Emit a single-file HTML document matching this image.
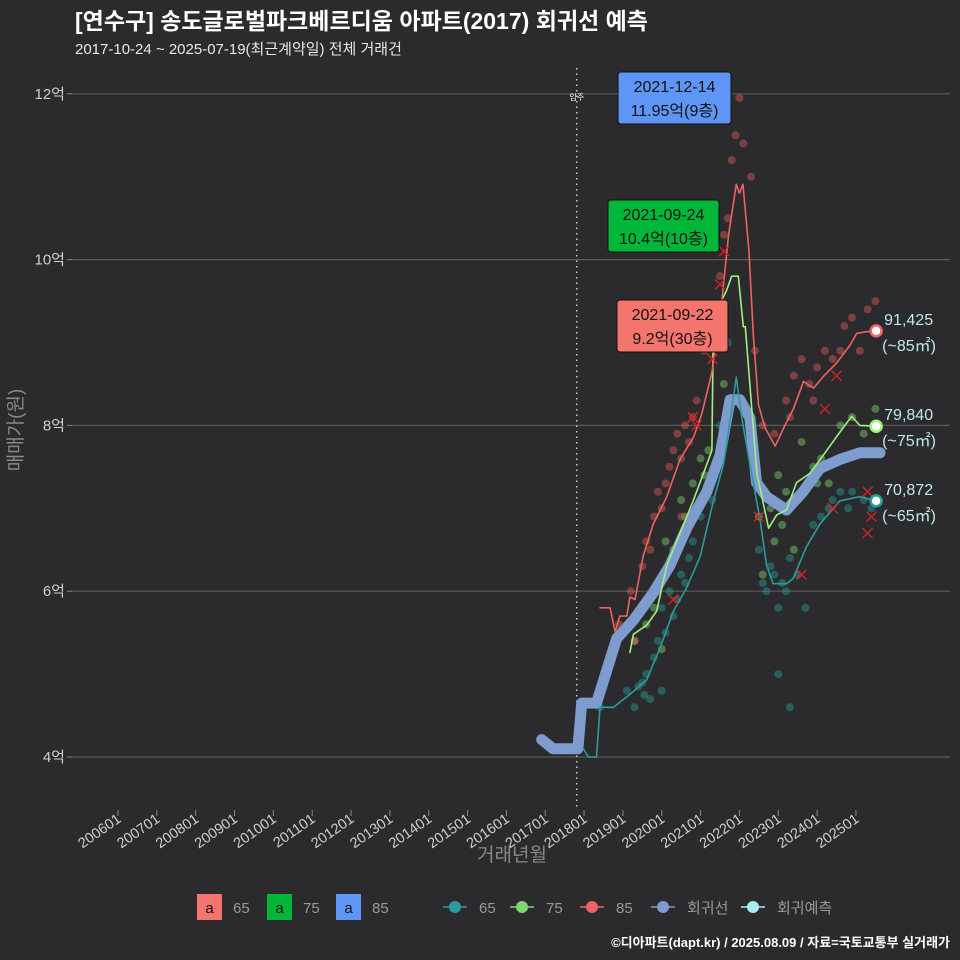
<!DOCTYPE html>
<html><head><meta charset="utf-8">
<style>
body{margin:0;background:#2b2b2d;}
svg{display:block;font-family:"Liberation Sans","Noto Sans CJK KR",sans-serif;}
</style></head>
<body>
<svg id="chart" width="960" height="960" viewBox="0 0 960 960">
<rect width="960" height="960" fill="#2b2b2d"/>
<text x="75" y="29" font-size="23" font-weight="bold" fill="#ffffff">[연수구] 송도글로벌파크베르디움 아파트(2017) 회귀선 예측</text>
<text x="75" y="54" font-size="15" fill="#e8e8e8">2017-10-24 ~ 2025-07-19(최근계약일) 전체 거래건</text>
<g id="grid"></g>
<g id="yaxis"></g>
<g id="xaxis"></g>
<text transform="translate(22,430) rotate(-90)" text-anchor="middle" font-size="19" fill="#888">매매가(원)</text>
<text x="512" y="861" text-anchor="middle" font-size="19" fill="#888">거래년월</text>
<g id="marks"></g>
<g id="legend"></g>
<text x="950" y="947" text-anchor="end" font-size="13" font-weight="bold" fill="#ffffff">©디아파트(dapt.kr) / 2025.08.09 / 자료=국토교통부 실거래가</text>
</svg>
<script>
const yTicks=[4,6,8,10,12];
const yTickLabels=["4억","6억","8억","10억","12억"];
const xTicks=[2006,2007,2008,2009,2010,2011,2012,2013,2014,2015,2016,2017,2018,2019,2020,2021,2022,2023,2024,2025];
const xTickLabels=["200601","200701","200801","200901","201001","201101","201201","201301","201401","201501","201601","201701","201801","201901","202001","202101","202201","202301","202401","202501"];
const moveInYear=2017.81;
const regYears=[2016.91,2017.2,2017.84,2017.94,2018.32,2018.58,2018.84,2019.27,2019.78,2020.21,2020.64,2021.16,2021.5,2021.76,2022.01,2022.27,2022.44,2022.7,2023.21,2023.64,2024.07,2024.59,2025.1,2025.62];
const regValues=[4.21,4.1,4.1,4.65,4.65,5.04,5.43,5.65,5.98,6.31,6.76,7.2,7.64,8.31,8.31,8.09,7.31,7.14,6.98,7.2,7.48,7.59,7.67,7.67];
const s85Years=[2018.41,2018.67,2018.8,2018.92,2019.1,2019.18,2019.31,2019.52,2019.78,2020.13,2020.47,2020.82,2021.03,2021.29,2021.55,2021.72,2021.92,2022.0,2022.09,2022.24,2022.36,2022.49,2022.66,2022.92,2023.14,2023.39,2023.65,2023.91,2024.16,2024.5,2024.85,2025.02,2025.27,2025.52];
const s85Values=[5.8,5.8,5.51,5.7,5.7,5.93,5.9,6.42,6.81,7.14,7.59,7.86,8.14,8.64,9.52,10.3,10.91,10.8,10.91,10.13,9.08,8.25,7.97,7.75,7.97,8.2,8.53,8.45,8.59,8.75,8.97,9.11,9.13,9.14];
const s75Years=[2019.18,2019.27,2019.61,2019.87,2020.13,2020.47,2020.81,2021.16,2021.29,2021.33,2021.67,2021.8,2021.97,2022.1,2022.15,2022.45,2022.75,2022.96,2023.21,2023.47,2023.81,2024.16,2024.59,2024.89,2025.1,2025.52];
const s75Values=[5.26,5.48,5.59,5.76,6.31,6.7,7.09,7.53,7.7,9.3,9.63,9.8,9.8,9.19,9.19,7.42,6.76,6.92,6.98,7.31,7.42,7.64,7.92,8.11,8.0,7.99];
const s65Years=[2017.98,2018.11,2018.32,2018.41,2018.76,2019.27,2019.61,2019.96,2020.3,2020.64,2020.99,2021.33,2021.59,2021.92,2022.06,2022.27,2022.53,2022.7,2022.87,2023.21,2023.38,2023.72,2024.07,2024.59,2025.1,2025.52];
const s65Values=[4.1,4.0,4.0,4.6,4.6,4.79,4.93,5.32,5.76,6.04,6.42,7.09,7.53,8.58,8.09,7.53,6.87,6.31,6.09,6.09,6.15,6.53,6.81,7.09,7.14,7.09];
const d85=[[2018.9,5.6],[2019.2,6.0],[2019.5,6.3],[2019.6,6.6],[2019.8,6.9],[2019.9,7.2],[2020.0,7.0],[2020.2,7.5],[2020.3,7.7],[2020.4,7.9],[2020.6,8.0],[2020.7,7.8],[2020.9,8.3],[2021.1,8.9],[2021.3,9.3],[2021.5,9.8],[2021.6,10.3],[2021.7,10.5],[2021.8,11.2],[2021.9,11.5],[2022.0,11.95],[2022.1,11.4],[2022.3,11.0],[2022.4,8.9],[2022.6,8.0],[2022.9,7.9],[2023.2,8.3],[2023.4,8.6],[2023.6,8.8],[2023.8,8.5],[2024.0,8.7],[2024.2,8.9],[2024.4,8.8],[2024.7,9.2],[2024.9,9.3],[2025.1,8.9],[2025.3,9.4],[2025.5,9.5],[2019.3,5.4],[2020.5,6.9],[2019.7,6.5],[2020.1,7.3],[2020.5,7.6],[2020.8,8.1],[2021.4,9.0],[2023.3,8.1],[2023.9,8.3],[2024.6,8.9]];
const d75=[[2019.3,5.4],[2019.6,5.6],[2019.9,6.0],[2020.1,6.6],[2020.3,6.5],[2020.5,7.1],[2020.8,7.3],[2021.0,7.6],[2021.2,7.7],[2021.6,8.5],[2022.5,6.9],[2022.6,6.2],[2022.8,7.0],[2023.0,7.4],[2023.2,7.2],[2023.4,6.5],[2023.6,7.8],[2023.9,7.5],[2024.1,7.6],[2024.3,7.3],[2024.6,8.0],[2024.9,8.1],[2025.2,7.9],[2025.5,8.2],[2020.0,5.3],[2022.9,6.6],[2019.8,5.8],[2020.2,6.3],[2020.6,6.9],[2021.1,7.4],[2023.1,6.8],[2024.0,7.3]];
const d65=[[2018.4,4.6],[2019.1,4.8],[2019.3,4.6],[2019.5,4.9],[2019.6,5.0],[2019.8,5.2],[2019.9,5.4],[2020.0,5.8],[2020.2,6.0],[2020.3,5.7],[2020.5,6.2],[2020.6,6.1],[2020.8,6.6],[2021.0,6.9],[2021.2,7.3],[2021.5,8.0],[2021.7,9.0],[2022.5,6.5],[2022.7,6.0],[2022.8,6.3],[2023.0,5.8],[2023.1,6.1],[2023.3,6.4],[2023.5,6.2],[2023.7,5.8],[2023.9,6.8],[2024.1,6.9],[2024.3,7.0],[2024.6,7.2],[2024.9,7.2],[2025.2,7.1],[2025.4,7.0],[2023.0,5.0],[2023.3,4.6],[2020.0,4.8],[2019.7,4.7],[2019.4,4.85],[2019.55,4.75],[2020.1,5.5],[2020.4,5.9],[2020.7,6.4],[2021.3,7.1],[2022.6,6.1],[2022.9,6.2],[2023.2,6.0],[2024.4,7.1],[2024.8,7.0]];
const cancelPts=[[2020.3,5.9],[2020.8,8.1],[2021.3,8.8],[2021.5,9.7],[2021.6,10.1],[2020.9,8.0],[2022.5,6.9],[2023.6,6.2],[2024.2,8.2],[2024.5,8.6],[2024.4,7.0],[2025.3,7.2],[2025.4,6.9],[2025.3,6.7]];
const endLabels=["91,425","79,840","70,872"];
const endAreas=["(~85㎡)","(~75㎡)","(~65㎡)"];
const annoDates=["2021-12-14","2021-09-24","2021-09-22"];
const annoTexts=["11.95억(9층)","10.4억(10층)","9.2억(30층)"];

const NS="http://www.w3.org/2000/svg";
const X=y=>118+(y-2006)*38.84;
const Y=v=>757-(v-4)*82.9;
function mk(parent,tag,attrs){const e=document.createElementNS(NS,tag);for(const k in attrs)e.setAttribute(k,attrs[k]);parent.appendChild(e);return e;}
const grid=document.getElementById('grid'),yax=document.getElementById('yaxis'),xax=document.getElementById('xaxis'),marks=document.getElementById('marks'),leg=document.getElementById('legend');
yTicks.forEach((t,i)=>{
 const l=mk(grid,'line',{x1:72,x2:950,y1:Y(t),y2:Y(t),stroke:'#5a5a5a','stroke-width':1.2});
 
 
 const tk=mk(yax,'line',{x1:67,x2:72,y1:Y(t),y2:Y(t),stroke:'#888'});
 
 
 const tx=mk(yax,'text',{x:65,y:Y(t)+5,'text-anchor':'end','font-size':15,fill:'#cfcfcf'});
 tx.textContent=yTickLabels[i];
 
 
});
xTicks.forEach((t,i)=>{
 const x=X(t);
 const tk=mk(xax,'line',{x1:x,x2:x,y1:810,y2:816,stroke:'#888'});
 
 
 const tx=mk(xax,'text',{transform:`translate(${x+4},${821}) rotate(-35)`,'text-anchor':'end','font-size':14.5,fill:'#cfcfcf'});
 tx.textContent=xTickLabels[i];
 
 
});
const mv=mk(marks,'line',{x1:X(moveInYear),x2:X(moveInYear),y1:68,y2:808,stroke:'#cccccc','stroke-width':1.5,'stroke-dasharray':'1.5 4'});


const mvt=mk(marks,'text',{x:X(moveInYear),y:100,'text-anchor':'middle','font-size':8,fill:'#fff'});
mvt.textContent='입주';


function dots(arr,col,name){arr.forEach(p=>{const c=mk(marks,'circle',{cx:X(p[0]),cy:Y(p[1]),r:4,fill:col,'fill-opacity':0.45});
 
 });}
dots(d65,'#2a9d9a','dot-65');dots(d75,'#7ed56f','dot-75');dots(d85,'#e05a5a','dot-85');
function line(xs,vs,col,w,name){const d=xs.map((x,i)=>(i?'L':'M')+X(x).toFixed(1)+','+Y(vs[i]).toFixed(1)).join('');
 const p=mk(marks,'path',{d:d,fill:'none',stroke:col,'stroke-width':w,'stroke-linejoin':'round','stroke-linecap':'round'});
 
 }
line(regYears,regValues,'#7f9ccf',11,'regression-line');
line(s65Years,s65Values,'#2a9d9a',1.6,'line-65');
line(s75Years,s75Values,'#9ef07f',1.6,'line-75');
line(s85Years,s85Values,'#f06262',1.6,'line-85');
cancelPts.forEach(p=>{const x=X(p[0]),y=Y(p[1]);
 const g=mk(marks,'path',{d:`M${x-5},${y-5}L${x+5},${y+5}M${x-5},${y+5}L${x+5},${y-5}`,stroke:'#e02020','stroke-width':1.3});
 
 });
const ends=[[s85Years,s85Values,'#f06262'],[s75Years,s75Values,'#9ef07f'],[s65Years,s65Values,'#2a9d9a']];
ends.forEach((e,i)=>{const n=e[0].length-1;const x=X(e[0][n]),y=Y(e[1][n]);
 const c=mk(marks,'circle',{cx:x,cy:y,r:5.5,fill:'#fff',stroke:e[2],'stroke-width':2.5});
 
 
 const t1=mk(marks,'text',{x:x+8,y:y-6,'font-size':16,fill:'#bfe9e6'});t1.textContent=endLabels[i];
 
 
 const t2=mk(marks,'text',{x:x+6,y:y+20,'font-size':16,fill:'#bfe9e6'});t2.textContent=endAreas[i];
 
 });
const boxes=[[618,72,'#5f95f5'],[608,200,'#00b73a'],[617,300,'#f4756d']];
boxes.forEach((b,i)=>{const w=i==0?113:111;
 const r=mk(marks,'rect',{x:b[0],y:b[1],width:w,height:52,rx:3,fill:b[2],stroke:'#111','stroke-width':1});
 
 
 const t1=mk(marks,'text',{x:b[0]+w/2,y:b[1]+20,'text-anchor':'middle','font-size':16,fill:'#111'});t1.textContent=annoDates[i];
 
 
 const t2=mk(marks,'text',{x:b[0]+w/2,y:b[1]+44,'text-anchor':'middle','font-size':16,fill:'#111'});t2.textContent=annoTexts[i];
 
 });
const fillLeg=[[197,'#f4756d','65'],[267,'#00b73a','75'],[336,'#5f95f5','85']];
fillLeg.forEach(f=>{const r=mk(leg,'rect',{x:f[0],y:894,width:25,height:26,fill:f[1]});
 
 
 const a=mk(leg,'text',{x:f[0]+12.5,y:913,'text-anchor':'middle','font-size':15,fill:'#111'});a.textContent='a';
 
 
 const t=mk(leg,'text',{x:f[0]+36,y:913,'font-size':15,fill:'#999'});t.textContent=f[2];
 
 });
const lineLeg=[[455,'#2a9d9a','65'],[522,'#7ed56f','75'],[592,'#f06262','85'],[663,'#7f9ccf','회귀선'],[753,'#a8eef0','회귀예측']];
lineLeg.forEach(f=>{const l=mk(leg,'line',{x1:f[0]-12,x2:f[0]+12,y1:907,y2:907,stroke:f[1],'stroke-width':1.5});
 
 
 const c=mk(leg,'circle',{cx:f[0],cy:907,r:6,fill:f[1]});
 
 
 const t=mk(leg,'text',{x:f[0]+24,y:913,'font-size':15,fill:'#999'});t.textContent=f[2];
 
 });
</script>
</body></html>
